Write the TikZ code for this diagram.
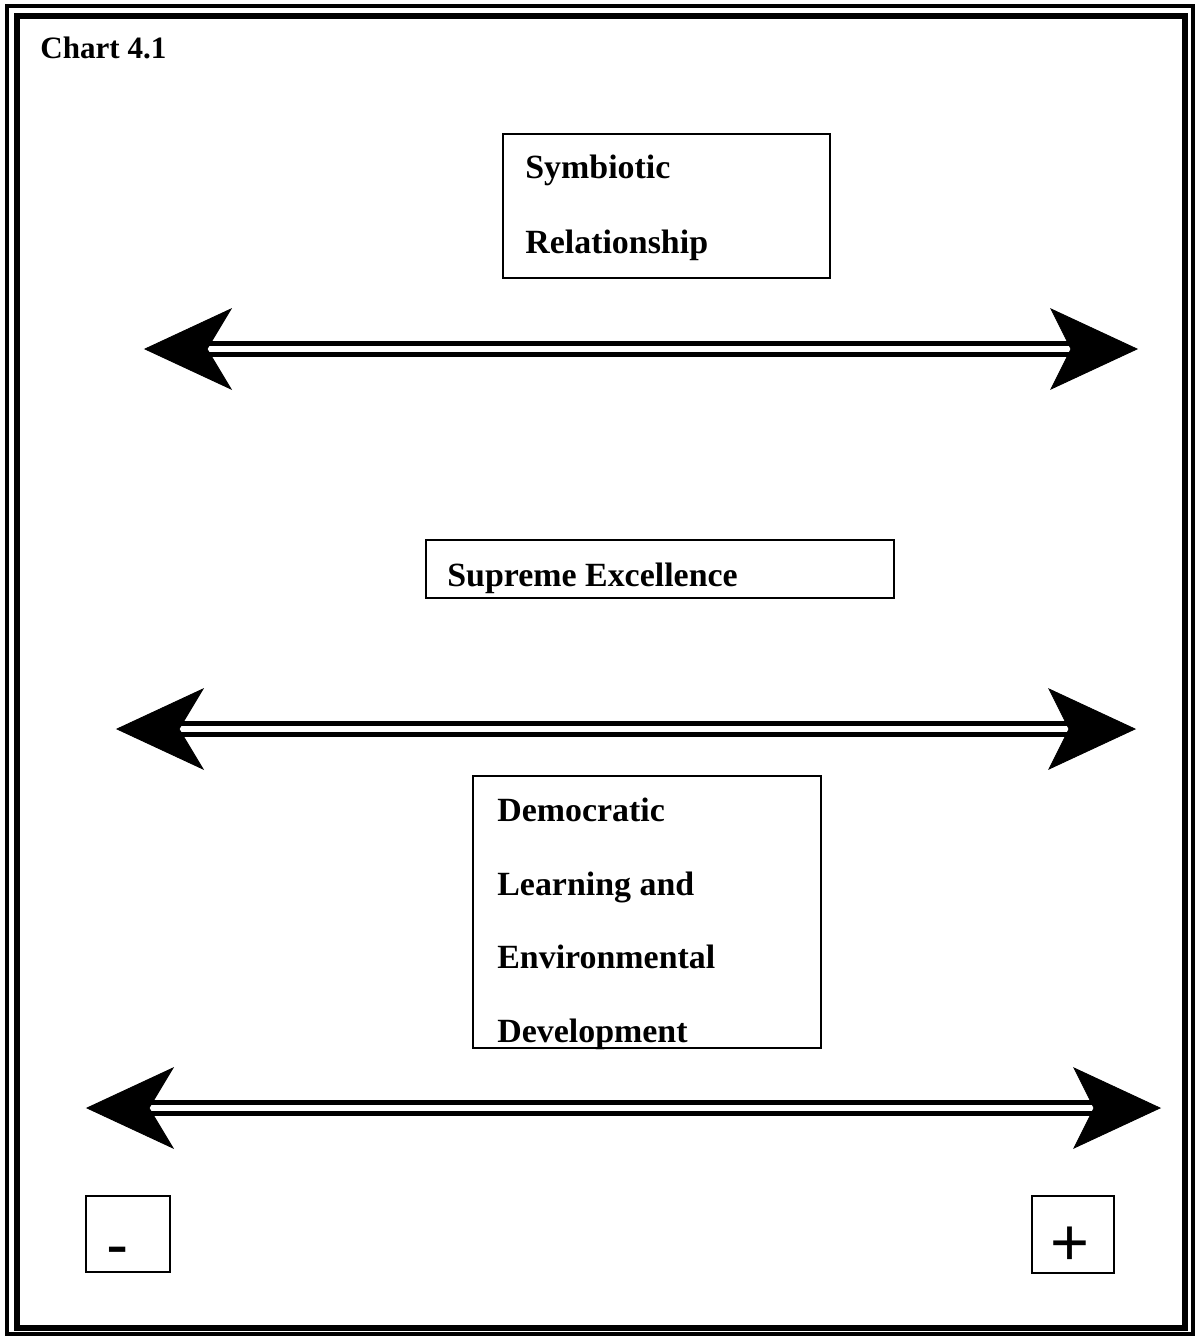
\documentclass[tikz,border=0pt]{standalone}
\usepackage{fontspec}
\setmainfont{Liberation Serif}
\newfontfamily\signfont{Liberation Sans}
\begin{document}
\begin{tikzpicture}[x=0.02cm,y=-0.02cm,
  box/.style={draw, line width=1.1pt, inner sep=0pt, anchor=north west},
  lbl/.style={font=\bfseries\fontsize{19.3}{22}\selectfont, anchor=base west, inner sep=0pt},
  sign/.style={font=\signfont\fontsize{38}{40}\selectfont, anchor=base, inner sep=0pt},
  shaft/.style={line width=3.3pt},
  head/.style={fill=black, draw=black, line width=0.5pt, line join=miter}]
\useasboundingbox (0,0) rectangle (1196,1336);
% frame
\draw[line width=2.2pt] (7,6) rectangle (1193,1334);
\draw[line width=3pt] (17,16) rectangle (1185,1328);
% title
\node[lbl, font=\bfseries\fontsize{17.7}{20}\selectfont] (title) at (40,58) {Chart 4.1};
% box 1
\node[box, minimum width=6.54cm, minimum height=2.88cm] (b1) at (502,133) {};
\node[lbl] (t1a) at (525,178) {Symbiotic};
\node[lbl] (t1b) at (525,253) {Relationship};
% box 2
\node[box, minimum width=9.36cm, minimum height=1.16cm] (b2) at (425,539) {};
\begin{scope}
  \clip (b2.south west) rectangle (b2.north east);
  \node[lbl] (t2) at (447,586) {Supreme Excellence};
\end{scope}
% box 3
\node[box, minimum width=6.96cm, minimum height=5.44cm] (b3) at (472,775) {};
\begin{scope}
  \clip ([shift={(0,-1pt)}]b3.south west) rectangle (b3.north east);
  \node[lbl] (t3a) at (497,821) {Democratic};
  \node[lbl] (t3b) at (497,895) {Learning and};
  \node[lbl] (t3c) at (497,968) {Environmental};
  \node[lbl] (t3d) at (497,1042) {Development};
\end{scope}
% sign boxes
\node[box, minimum width=1.68cm, minimum height=1.52cm] (bm) at (85,1195) {};
\node[sign] (minus) at (118,1267) {-};
\node[box, minimum width=1.64cm, minimum height=1.54cm] (bp) at (1031,1195) {};
\node[sign] (plus) at (1070,1265) {+};
% double-headed arrows
\foreach \n/\yy/\lx/\rx in {1/349/145/1137, 2/729/117/1135, 3/1108/87/1160}{
  \coordinate (L\n) at (\lx,\yy);
  \coordinate (R\n) at (\rx,\yy);
  \draw[shaft] ([shift={(60,-5.5)}]L\n) -- ([shift={(-60,-5.5)}]R\n);
  \draw[shaft] ([shift={(60,5.5)}]L\n) -- ([shift={(-60,5.5)}]R\n);
  \filldraw[head] (L\n) -- ++(86,-40) -- ++(-24,40) -- ++(24,40) -- cycle;
  \filldraw[head] (R\n) -- ++(-86,-40) -- ++(20,40) -- ++(-20,40) -- cycle;
}
\end{tikzpicture}
\end{document}
